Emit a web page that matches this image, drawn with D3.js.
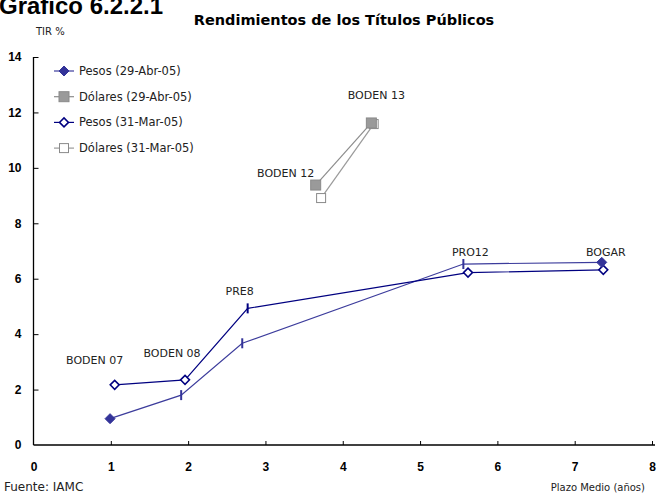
<!DOCTYPE html>
<html>
<head>
<meta charset="utf-8">
<script src="https://cdn.jsdelivr.net/npm/d3@7/dist/d3.min.js"></script>
<style>
  html, body { margin: 0; padding: 0; background: #fff; }
  svg { display: block; }
  .lbl { font-family: "DejaVu Sans", sans-serif; font-size: 11px; fill: #222; }
  .tick text { font-family: "Liberation Sans", Arial, sans-serif; font-weight: bold; font-size: 12px; fill: #000; }
</style>
</head>
<body>
<svg id="chart" width="660" height="495"></svg>
<script>
// Bonos en pesos
const pesosBonos = ["BODEN 07", "BODEN 08", "PRE8", "PRO12", "BOGAR"];
const pesosAbrPlazo = [0.99, 1.91, 2.70, 5.56, 7.35];
const pesosAbrTir   = [0.95, 1.80, 3.67, 6.53, 6.59];
const pesosMarPlazo = [1.05, 1.96, 2.77, 5.62, 7.37];
const pesosMarTir   = [2.17, 2.35, 4.93, 6.22, 6.32];

// Bonos en dólares
const dolaresBonos = ["BODEN 12", "BODEN 13"];
const dolAbrPlazo = [3.65, 4.37];
const dolAbrTir   = [9.38, 11.62];
const dolMarPlazo = [3.72, 4.40];
const dolMarTir   = [8.91, 11.58];

const seriesNames = ["Pesos (29-Abr-05)", "Dólares (29-Abr-05)", "Pesos (31-Mar-05)", "Dólares (31-Mar-05)"];
const xTicks = [0, 1, 2, 3, 4, 5, 6, 7, 8];
const yTicks = [0, 2, 4, 6, 8, 10, 12, 14];

const svg = d3.select("#chart");
const x = d3.scaleLinear().domain([0, 8]).range([33.5, 652]);
const y = d3.scaleLinear().domain([0, 14]).range([445, 57]);

const zip = (xs, ys, names) => xs.map((v, i) => ({ x: v, y: ys[i], name: names[i] }));

const series = [
  { name: seriesNames[0], pts: zip(pesosAbrPlazo, pesosAbrTir, pesosBonos), line: "#3c3c9c", marker: "diamond", fill: "#333399", stroke: "#333399", bars: ["BODEN 08", "PRE8", "PRO12"] },
  { name: seriesNames[1], pts: zip(dolAbrPlazo, dolAbrTir, dolaresBonos), line: "#8c8c8c", marker: "square", fill: "#9a9a9a", stroke: "#8a8a8a", bars: [] },
  { name: seriesNames[2], pts: zip(pesosMarPlazo, pesosMarTir, pesosBonos), line: "#000080", marker: "diamond", fill: "#ffffff", stroke: "#000080", bars: ["PRE8"] },
  { name: seriesNames[3], pts: zip(dolMarPlazo, dolMarTir, dolaresBonos), line: "#9a9a9a", marker: "square", fill: "#ffffff", stroke: "#8a8a8a", bars: [] }
];

// axes
const xAxis = d3.axisBottom(x).tickValues(xTicks).tickSize(-4).tickPadding(17).tickFormat(d3.format("d"));
const yAxis = d3.axisLeft(y).tickValues(yTicks).tickSize(-5).tickPadding(12).tickFormat(d3.format("d"));
const gx = svg.append("g").attr("transform", `translate(0,${y(0)})`).call(xAxis);
const gy = svg.append("g").attr("transform", `translate(${x(0)},0)`).call(yAxis);
[gx, gy].forEach(g => {
  g.select(".domain").attr("stroke", "#000").attr("stroke-width", 1.3);
  g.selectAll(".tick line").attr("stroke", "#000").attr("stroke-width", 1);
});
gx.select(".domain").attr("d", `M${x(0)},0H${x(8) + 3}`);
gy.select(".domain").attr("d", `M0,${y(0)}V${y(14)}`);
gy.selectAll(".tick").filter(d => d === 0).select("line").remove();
gx.selectAll(".tick").filter(d => d === 0).select("line").remove();

// markers
function drawMarker(g, s, cx, cy, isBar) {
  if (isBar) {
    g.append("line").attr("x1", cx).attr("x2", cx).attr("y1", cy - 5).attr("y2", cy + 5)
      .attr("stroke", s.stroke).attr("stroke-width", 2);
    return;
  }
  const hollow = s.fill === "#ffffff";
  if (s.marker === "diamond") {
    const r = hollow ? 4.5 : 5;
    g.append("path").attr("d", `M${cx},${cy - r}L${cx + r},${cy}L${cx},${cy + r}L${cx - r},${cy}Z`)
      .attr("fill", s.fill).attr("stroke", s.stroke).attr("stroke-width", hollow ? 1.5 : 1);
  } else {
    const h = hollow ? 4.5 : 5;
    g.append("rect").attr("x", cx - h).attr("y", cy - h).attr("width", 2 * h).attr("height", 2 * h)
      .attr("fill", s.fill).attr("stroke", s.stroke).attr("stroke-width", 1);
  }
}

const line = d3.line().x(d => x(d.x)).y(d => y(d.y));
const plot = svg.append("g");
series.forEach(s => {
  plot.append("path").datum(s.pts).attr("d", line)
    .attr("fill", "none").attr("stroke", s.line).attr("stroke-width", 1.2);
});
// hollow series first so the filled markers sit on top
[3, 2, 1, 0].forEach(i => {
  const s = series[i];
  s.pts.forEach(p => drawMarker(plot, s, x(p.x), y(p.y), s.bars.includes(p.name)));
});

// bond labels, anchored on a reference point
const labelAnchor = [
  { s: 2, name: "BODEN 07", dx: -20, dy: -21 },
  { s: 2, name: "BODEN 08", dx: -13, dy: -23 },
  { s: 2, name: "PRE8", dx: -8, dy: -13 },
  { s: 0, name: "PRO12", dx: 7, dy: -8 },
  { s: 0, name: "BOGAR", dx: 4, dy: -6 },
  { s: 1, name: "BODEN 12", dx: -30, dy: -8 },
  { s: 1, name: "BODEN 13", dx: 5, dy: -24 }
];
labelAnchor.forEach(a => {
  const p = series[a.s].pts.find(q => q.name === a.name);
  svg.append("text").attr("class", "lbl").attr("text-anchor", "middle")
    .attr("x", x(p.x) + a.dx).attr("y", y(p.y) + a.dy).text(a.name);
});

// legend
const leg = svg.append("g");
series.forEach((s, i) => {
  const ly = 71 + i * 25.7;
  leg.append("line").attr("x1", 54).attr("x2", 74).attr("y1", ly).attr("y2", ly)
    .attr("stroke", s.line).attr("stroke-width", 1.2);
  drawMarker(leg, s, 64, ly, false);
  leg.append("text").attr("class", "lbl").attr("x", 79).attr("y", ly + 4).style("font-size", "11.5px").text(s.name);
});

// titles and notes
svg.append("text").attr("x", -1).attr("y", 14)
  .style("font-family", "Liberation Sans, Arial, sans-serif").style("font-weight", "bold").style("font-size", "24px")
  .text("Gráfico 6.2.2.1");
svg.append("text").attr("x", 344).attr("y", 25).attr("text-anchor", "middle")
  .style("font-family", "DejaVu Sans, sans-serif").style("font-weight", "bold").style("font-size", "14.5px")
  .text("Rendimientos de los Títulos Públicos");
svg.append("text").attr("class", "lbl").attr("x", 36).attr("y", 35).style("font-size", "10px").text("TIR %");
svg.append("text").attr("class", "lbl").attr("x", 4).attr("y", 491).style("font-size", "12px").text("Fuente: IAMC");
svg.append("text").attr("class", "lbl").attr("x", 645).attr("y", 491).attr("text-anchor", "end").style("font-size", "10px").text("Plazo Medio (años)");
</script>
</body>
</html>
